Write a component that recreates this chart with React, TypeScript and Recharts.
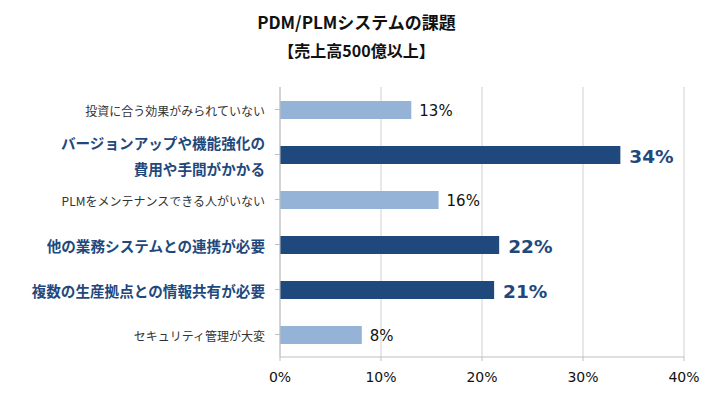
import { Bar, BarChart, CartesianGrid, Cell, LabelList, XAxis, YAxis } from 'recharts';

const categories = [
  '投資に合う効果がみられていない',
  'バージョンアップや機能強化の\n費用や手間がかかる',
  'PLMをメンテナンスできる人がいない',
  '他の業務システムとの連携が必要',
  '複数の生産拠点との情報共有が必要',
  'セキュリティ管理が大変',
];
const shares = [13.0, 33.7, 15.7, 21.7, 21.2, 8.1];
const labels = ['13%', '34%', '16%', '22%', '21%', '8%'];
const highlight = [false, true, false, true, true, false];
const xTicks = [0, 10, 20, 30, 40];

const data = categories.map((name, i) => ({ name, share: shares[i], label: labels[i], hi: highlight[i] }));

const JP = '"Noto Sans CJK JP", "Noto Sans", sans-serif';
const DARK = '#1F497D';
const LIGHT = '#95B3D7';

function CategoryTick(props: any) {
  const { x, y, payload, index } = props;
  const hi = highlight[index];
  const lines = String(payload.value).split('\n');
  const lh = 26;
  const start = y - ((lines.length - 1) * lh) / 2;
  return (
    <text
      x={x - 8}
      y={start}
      textAnchor="end"
      dominantBaseline="central"
      fontFamily={JP}
      fontSize={hi ? 14.6 : 12}
      fontWeight={hi ? 700 : 400}
      fill={hi ? DARK : '#333'}
    >
      {lines.map((l, i) => (
        <tspan key={i} x={x - 8} dy={i === 0 ? 0 : lh}>
          {l}
        </tspan>
      ))}
    </text>
  );
}

function ValueLabel(props: any) {
  const { x, y, width, height, index } = props;
  const hi = highlight[index];
  return (
    <text
      x={x + width + (hi ? 9 : 8)}
      y={y + height / 2 + 1}
      dominantBaseline="central"
      fontFamily='"DejaVu Sans", Verdana, sans-serif'
      fontSize={hi ? 18.5 : 15}
      fontWeight={hi ? 700 : 400}
      fill={hi ? DARK : '#111'}
    >
      {labels[index]}
    </text>
  );
}

const titleStyle = {
  position: 'absolute' as const,
  left: 0,
  width: 713,
  textAlign: 'center' as const,
  fontFamily: JP,
  fontWeight: 700,
  color: '#111',
  lineHeight: '24px',
};

export default function App() {
  return (
    <div style={{ position: 'absolute', left: 0, top: 0, width: 713, height: 395, background: '#fff' }}>
      <div style={{ ...titleStyle, top: 10, fontSize: 17 }}>PDM/PLMシステムの課題</div>
      <div style={{ ...titleStyle, top: 38, fontSize: 16 }}>【売上高500億以上】</div>
      <BarChart
        width={713}
        height={395}
        data={data}
        layout="vertical"
        margin={{ top: 87, right: 29, bottom: 8, left: 0 }}
        style={{ position: 'absolute', left: 0, top: 0 }}
      >
        <CartesianGrid horizontal={false} stroke="#d0d0d0" />
        <XAxis
          type="number"
          domain={[0, 40]}
          ticks={xTicks}
          tickFormatter={(v) => `${v}%`}
          stroke="#bfbfbf"
          tickSize={4}
          tick={{ fill: '#111', fontSize: 14, fontFamily: '"DejaVu Sans", sans-serif' }}
          tickMargin={11}
          height={30}
        />
        <YAxis
          type="category"
          dataKey="name"
          width={280}
          stroke="#bfbfbf"
          tickSize={5}
          tick={<CategoryTick />}
          interval={0}
        />
        <Bar dataKey="share" barSize={18} isAnimationActive={false}>
          {data.map((d, i) => (
            <Cell key={i} fill={d.hi ? DARK : LIGHT} />
          ))}
          <LabelList dataKey="label" content={<ValueLabel />} />
        </Bar>
      </BarChart>
    </div>
  );
}
